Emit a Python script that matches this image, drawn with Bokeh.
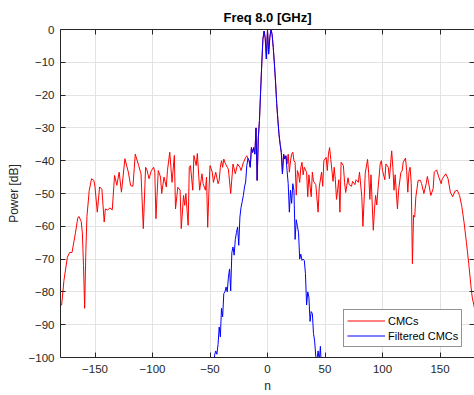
from bokeh.plotting import figure
from bokeh.models import Range1d, FixedTicker, LinearAxis, Legend, LegendItem, CustomLabelingPolicy
from bokeh.embed import file_html
from bokeh.resources import INLINE

# ---- data ----
red_left_n = [-180, -179, -177, -174, -172, -170, -167, -165, -164, -162, -161, -160, -159, -158, -157,
              -155, -153, -151, -150, -148, -146, -144, -142, -141, -139, -137, -135, -133, -131, -129,
              -127, -124, -121, -119, -117, -115, -112, -110, -108, -106, -105, -103, -101, -99, -98,
              -97, -95, -93, -92, -90, -88, -87, -85, -83, -81, -80, -78, -76, -75, -73, -72, -71, -69,
              -68, -67, -65, -64, -62, -61, -59, -57, -56, -54, -53, -52, -51, -50, -48, -47, -45, -43,
              -42, -41, -40, -39, -38, -37, -35, -34, -32, -30, -28, -26, -24, -23, -21, -19, -18]
red_left_db = [-84, -84, -76.5, -69.4, -68, -68, -62, -57.5, -57, -58.5, -62, -72, -85, -68, -57,
               -49, -45.5, -46, -48, -55.7, -48, -48.7, -58.7, -54.7, -55, -54.4, -55, -44.5, -47.5, -43.5,
               -49.6, -39.4, -43.5, -47.6, -47.8, -38, -41.5, -44, -60.7, -42, -42.6, -45.5, -43, -42, -43.5,
               -57.7, -43, -45, -50, -45, -48, -43, -37.4, -46.6, -38.4, -54.7, -48.1, -49, -60.7, -50.6, -53.6, -50, -59.7,
               -42, -41.5, -49, -38.4, -41.5, -37.8, -49, -44, -47, -49, -45, -60.3, -50, -41.5, -43.5, -46.6, -43.5, -47,
               -46, -42, -40, -42, -39.5, -40.6, -42, -42.6, -50, -41, -44, -41, -42, -43, -40.6, -39, -38.5]

center_n = [-17, -16, -15, -14, -13, -12, -11, -10, -9, -8, -7, -6, -5, -4, -3, -2, -1,
            0, 1, 2, 3, 4, 5, 6, 7, 8, 9, 10, 11, 12, 13, 14, 15, 16]
center_db = [-39.3, -40, -42, -36, -37.5, -36, -38, -30, -46, -33, -27.8, -19, -10.5, -3, -0.5, -2.5, -9,
             0, -7.5, -2.5, 0, -1.5, -5.5, -10.5, -16, -22.5, -27.5, -32, -35, -37.5, -44, -38, -39.5, -38.5]

red_right_n = [17, 18, 19, 20, 21, 22, 23, 24, 25, 26, 27, 28, 29, 30, 31, 32, 34, 35, 36, 38, 39, 40, 42,
               44, 45, 47, 48, 49, 51, 52, 53, 54, 55, 57, 58, 59, 60, 62, 63, 64, 66, 67, 68, 70, 71, 73,
               74, 76, 77, 79, 80, 82, 83, 85, 87, 88, 89, 90, 92, 93, 94, 95, 96, 97, 98, 99, 100, 102,
               103, 105, 106, 108, 109, 110, 111, 113, 114, 116, 117, 118, 120, 121, 122, 123, 124, 125,
               126, 127, 128, 129, 131, 133, 134, 136, 138, 139, 140, 142, 144, 145, 147, 149, 151, 152,
               155, 157, 159, 161, 163, 165, 167, 169, 171, 173, 175, 177, 178, 180]
red_right_db = [-41, -38, -43.5, -40, -38, -37.4, -40, -40.5, -50.5, -43, -44, -46.6, -42, -40.5, -44.3, -42,
                -43.5, -51, -44.3, -51, -43.5, -46.3, -47.3, -55.7, -48, -43.5, -47.8, -40, -39, -43, -38,
                -36, -39.6, -46.3, -42, -45.8, -51.8, -45.8, -55.7, -40.5, -41.5, -46.6, -49.7, -45.2,
                -47.3, -47.8, -46.3, -47.3, -45.8, -46.6, -43.5, -51, -60, -43.8, -39.6, -43.8, -51.8,
                -44.3, -61.2, -55, -50.6, -53.5, -49, -45, -41, -40, -43, -45.8, -41, -42, -45.5, -37,
                -42, -49, -44.3, -54.7, -49, -43.5, -43.2, -40.5, -39.2, -43, -49.6, -43.5, -42, -47,
                -71.4, -56.6, -57.2, -51, -46, -46, -47, -50, -47, -44.8, -46.6, -50.6, -48.6, -43.5,
                -42.8, -45, -47, -45.5, -44, -45.5, -49.6, -51, -49.3, -49, -50.6, -54, -59, -65, -71.4,
                -78.5, -81.6, -85]

blue_left_n = [-47, -46, -45, -44, -43, -42, -41, -40, -39, -38, -37, -36, -35, -34, -33, -32, -31, -30,
               -29, -28, -27, -26, -25, -24, -23, -22, -21, -20, -19, -18]
blue_left_db = [-104, -99.3, -98, -99, -96, -90.7, -93.7, -85, -87.6, -80.5, -80, -78.5, -80, -75.5, -73,
                -79.7, -68, -66.3, -68.8, -64, -61.9, -60.2, -65.8, -57.2, -54.2, -52.5, -50.6, -48,
                -46.5, -41.5]

blue_right_n = [17, 18, 19, 20, 21, 22, 23, 24, 25, 26, 27, 28, 29, 30, 31, 32, 33, 34, 35, 36, 37, 38,
                39, 40, 41, 42, 43, 44, 45, 46, 47]
blue_right_db = [-43, -47, -55.7, -49, -53, -47, -49, -64, -58, -60, -62, -70, -68.5, -70.4, -70, -70.4,
                 -74.4, -84, -80, -81.6, -89, -86, -86.6, -92.7, -95, -99.8, -100.5, -98, -101, -96.6, -104]

x_ticks = [-150, -100, -50, 0, 50, 100, 150]
y_ticks = [-100, -90, -80, -70, -60, -50, -40, -30, -20, -10, 0]

red_n = red_left_n + center_n + red_right_n
red_db = red_left_db + center_db + red_right_db
blue_n = blue_left_n + center_n + blue_right_n
blue_db = blue_left_db + center_db + blue_right_db

FONT = "Liberation Sans"
AX = "#262626"

p = figure(width=474, height=395, output_backend="svg", toolbar_location=None,
           x_range=Range1d(-180, 180), y_range=Range1d(-100, 0),
           min_border_left=60, min_border_right=0, min_border_top=29, min_border_bottom=38,
           title="Freq 8.0 [GHz]")
p.background_fill_color = "white"
p.border_fill_color = "white"
p.outline_line_color = None

p.title.align = "center"
p.title.text_font = FONT
p.title.text_font_size = "13px"
p.title.text_font_style = "bold"
p.title.text_color = "#000000"

xt = FixedTicker(ticks=x_ticks)
yt = FixedTicker(ticks=y_ticks)

p.xaxis.ticker = xt
p.yaxis.ticker = yt
p.xgrid.ticker = xt
p.ygrid.ticker = yt
for g in (p.xgrid, p.ygrid):
    g.grid_line_color = "#e3e3e3"
    g.grid_line_width = 1

for ax in (p.xaxis[0], p.yaxis[0]):
    ax.major_tick_in = 5
    ax.major_tick_out = 0
    ax.minor_tick_in = 0
    ax.minor_tick_out = 0
    ax.axis_line_color = AX
    ax.major_tick_line_color = AX
    ax.major_label_text_font = FONT
    ax.major_label_text_font_size = "11.5px"
    ax.major_label_text_color = AX
    ax.axis_label_text_font = FONT
    ax.axis_label_text_font_size = "12px"
    ax.axis_label_text_font_style = "normal"
    ax.axis_label_text_color = AX

p.xaxis.axis_label = "n"
p.yaxis.axis_label = "Power [dB]"
p.yaxis.major_label_standoff = 6
p.yaxis.axis_label_standoff = 5
p.xaxis.major_label_standoff = 7
p.xaxis.axis_label_standoff = 3

# the box's top and right edges: tick marks only, no labels drawn
no_labels = CustomLabelingPolicy(code="return []")
top = LinearAxis(ticker=xt, major_label_text_font_size="0px", major_label_standoff=0,
                 major_label_policy=no_labels,
                 major_tick_in=5, major_tick_out=0, minor_tick_in=0, minor_tick_out=0,
                 axis_line_color=AX, major_tick_line_color=AX)
p.add_layout(top, "above")
right = LinearAxis(ticker=yt, major_label_text_font_size="0px", major_label_standoff=0,
                   major_label_policy=CustomLabelingPolicy(code="return []"),
                   major_tick_in=5, major_tick_out=0, minor_tick_in=0, minor_tick_out=0,
                   axis_line_color=None, major_tick_line_color=AX)
p.add_layout(right, "right")

r_red = p.line(red_n, red_db, line_color="#ff0000", line_width=1)
r_blue = p.line(blue_n, blue_db, line_color="#0000ff", line_width=1)

legend = Legend(items=[LegendItem(label="CMCs", renderers=[r_red]),
                       LegendItem(label="Filtered CMCs", renderers=[r_blue])],
                location=(283, 10))
legend.border_line_color = AX
legend.border_line_width = 1
legend.background_fill_color = "white"
legend.background_fill_alpha = 1
legend.label_text_font = FONT
legend.label_text_font_size = "11px"
legend.label_text_color = "#000000"
legend.glyph_width = 38
legend.glyph_height = 15
legend.label_height = 15
legend.spacing = 0
legend.padding = 3
legend.margin = 0
legend.label_standoff = 3
p.add_layout(legend)

open("out.html", "w").write(file_html(p, INLINE))
